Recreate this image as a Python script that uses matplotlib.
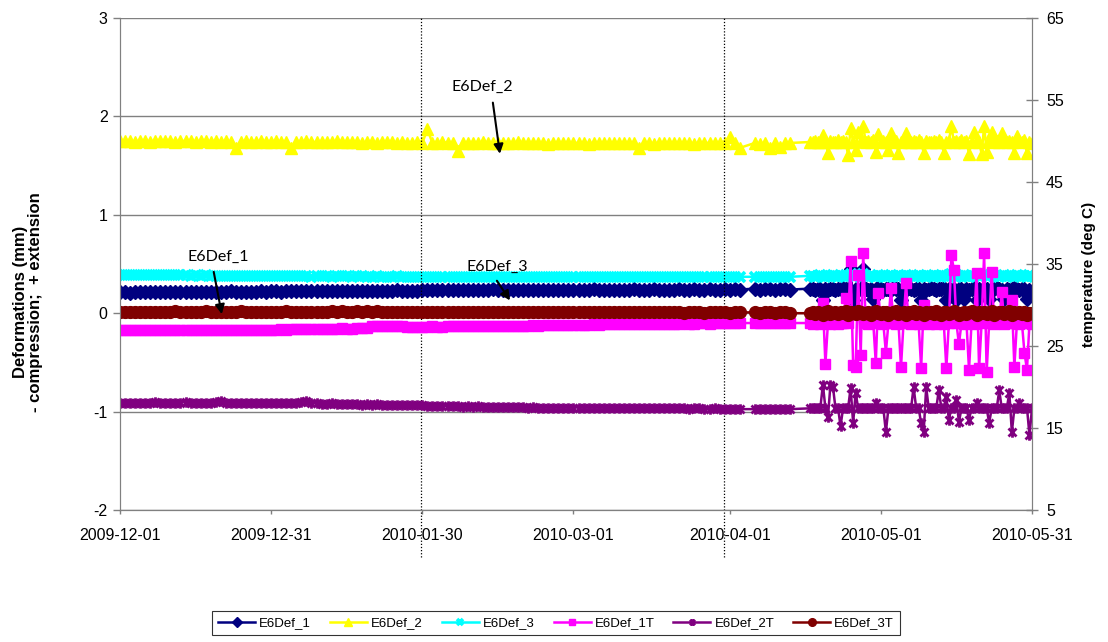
import numpy as np
import pandas as pd
import matplotlib
matplotlib.use("Agg")
import matplotlib.pyplot as plt
import matplotlib.dates as mdates
from matplotlib.path import Path

# ---------------- data ----------------
START = "2009-12-01"
DAYS_EARLY = np.arange(0, 134)            # daily readings, day offset from START
DAYS_LATE = np.arange(137, 181.01, 0.5)   # twice daily readings from 2010-04-17

X_TICK_LABELS = ["2009-12-01", "2009-12-31", "2010-01-30", "2010-03-01",
                 "2010-04-01", "2010-05-01", "2010-05-31"]
LEFT_TICKS = [-2, -1, 0, 1, 2, 3]
RIGHT_TICKS = [5, 15, 25, 35, 45, 55, 65]
EVENT_DATES = ["2010-01-29 17:00", "2010-03-30 19:00"]

# deformations (mm), left axis
E6Def_1_early = [
    0.22, 0.22, 0.21, 0.22, 0.22, 0.22, 0.22, 0.22, 0.22, 0.22,
    0.22, 0.22, 0.22, 0.22, 0.22, 0.22, 0.22, 0.22, 0.22, 0.22,
    0.22, 0.22, 0.23, 0.22, 0.22, 0.22, 0.22, 0.22, 0.23, 0.22,
    0.23, 0.23, 0.22, 0.23, 0.23, 0.23, 0.23, 0.23, 0.23, 0.23,
    0.23, 0.23, 0.23, 0.23, 0.23, 0.23, 0.23, 0.23, 0.23, 0.23,
    0.23, 0.23, 0.23, 0.23, 0.23, 0.24, 0.23, 0.23, 0.23, 0.23,
    0.24, 0.24, 0.24, 0.24, 0.24, 0.24, 0.24, 0.24, 0.24, 0.24,
    0.24, 0.24, 0.24, 0.24, 0.25, 0.24, 0.24, 0.24, 0.24, 0.24,
    0.24, 0.24, 0.24, 0.24, 0.24, 0.24, 0.24, 0.24, 0.24, 0.24,
    0.24, 0.24, 0.24, 0.24, 0.25, 0.24, 0.24, 0.24, 0.24, 0.24,
    0.24, 0.24, 0.25, 0.24, 0.24, 0.24, 0.25, 0.24, 0.24, 0.24,
    0.24, 0.25, 0.24, 0.24, 0.25, 0.24, 0.24, 0.25, 0.24, 0.24,
    0.25, 0.24, 0.25, 0.24, None, None, 0.25, 0.24, 0.25, 0.25,
    0.24, 0.25, 0.25, 0.24]
E6Def_1_late = [
    0.25, 0.25, 0.24, 0.25, 0.25, 0.13, 0.25, 0.24, 0.25, 0.25,
    0.24, 0.25, 0.25, 0.26, 0.25, 0.24, 0.45, 0.13, 0.25, 0.24,
    0.25, 0.45, 0.25, 0.24, 0.25, 0.14, 0.25, 0.26, 0.25, 0.24,
    0.25, 0.25, 0.24, 0.26, 0.25, 0.25, 0.13, 0.25, 0.24, 0.26,
    0.25, 0.24, 0.25, 0.25, 0.13, 0.25, 0.24, 0.25, 0.26, 0.25,
    0.24, 0.25, 0.25, 0.26, 0.13, 0.25, 0.24, 0.25, 0.13, 0.25,
    0.25, 0.14, 0.25, 0.24, 0.25, 0.26, 0.13, 0.25, 0.24, 0.25,
    0.25, 0.14, 0.24, 0.25, 0.26, 0.25, 0.24, 0.14, 0.25, 0.24,
    0.25, 0.26, 0.25, 0.24, 0.25, 0.25, 0.14, 0.24, 0.22]

E6Def_2_early = [
    1.75, 1.75, 1.75, 1.74, 1.75, 1.75, 1.74, 1.75, 1.75, 1.75,
    1.75, 1.74, 1.75, 1.75, 1.75, 1.74, 1.75, 1.75, 1.74, 1.75,
    1.74, 1.75, 1.74, 1.68, 1.74, 1.75, 1.74, 1.74, 1.75, 1.74,
    1.74, 1.75, 1.74, 1.74, 1.68, 1.74, 1.74, 1.75, 1.74, 1.74,
    1.74, 1.74, 1.74, 1.75, 1.74, 1.74, 1.74, 1.74, 1.73, 1.74,
    1.74, 1.73, 1.74, 1.74, 1.74, 1.73, 1.74, 1.73, 1.73, 1.74,
    1.73, 1.87, 1.73, 1.73, 1.74, 1.73, 1.73, 1.65, 1.73, 1.73,
    1.73, 1.73, 1.74, 1.73, 1.73, 1.73, 1.73, 1.73, 1.73, 1.74,
    1.73, 1.73, 1.73, 1.73, 1.73, 1.72, 1.73, 1.73, 1.73, 1.73,
    1.73, 1.73, 1.73, 1.72, 1.73, 1.73, 1.73, 1.73, 1.73, 1.73,
    1.73, 1.73, 1.73, 1.68, 1.73, 1.73, 1.72, 1.73, 1.73, 1.73,
    1.73, 1.73, 1.73, 1.73, 1.72, 1.73, 1.73, 1.73, 1.73, 1.73,
    1.73, 1.79, 1.73, 1.68, None, None, 1.73, 1.72, 1.73, 1.68,
    1.73, 1.69, 1.73, 1.73]
E6Def_2_late = [
    1.74, 1.74, 1.75, 1.74, 1.74, 1.81, 1.74, 1.63, 1.75, 1.74,
    1.74, 1.76, 1.74, 1.75, 1.74, 1.61, 1.88, 1.74, 1.66, 1.84,
    1.75, 1.90, 1.74, 1.75, 1.74, 1.76, 1.64, 1.82, 1.74, 1.75,
    1.74, 1.66, 1.83, 1.74, 1.75, 1.63, 1.74, 1.76, 1.83, 1.74,
    1.74, 1.75, 1.74, 1.76, 1.74, 1.63, 1.75, 1.74, 1.74, 1.75,
    1.74, 1.76, 1.74, 1.63, 1.74, 1.75, 1.90, 1.74, 1.75, 1.74,
    1.76, 1.74, 1.75, 1.62, 1.74, 1.84, 1.75, 1.74, 1.62, 1.90,
    1.64, 1.76, 1.84, 1.74, 1.75, 1.74, 1.83, 1.76, 1.74, 1.75,
    1.74, 1.63, 1.80, 1.75, 1.74, 1.76, 1.63, 1.74, 1.73]

E6Def_3_early = [
    0.39, 0.39, 0.39, 0.39, 0.39, 0.39, 0.39, 0.39, 0.39, 0.39,
    0.39, 0.39, 0.39, 0.39, 0.38, 0.39, 0.38, 0.39, 0.38, 0.38,
    0.38, 0.38, 0.38, 0.38, 0.38, 0.38, 0.38, 0.38, 0.38, 0.38,
    0.38, 0.38, 0.38, 0.38, 0.38, 0.38, 0.38, 0.38, 0.37, 0.38,
    0.38, 0.38, 0.37, 0.38, 0.38, 0.38, 0.37, 0.38, 0.38, 0.37,
    0.37, 0.38, 0.37, 0.37, 0.37, 0.38, 0.37, 0.37, 0.37, 0.37,
    0.37, 0.37, 0.37, 0.37, 0.37, 0.37, 0.37, 0.37, 0.37, 0.37,
    0.37, 0.37, 0.37, 0.37, 0.37, 0.37, 0.37, 0.37, 0.37, 0.37,
    0.37, 0.37, 0.37, 0.37, 0.37, 0.37, 0.37, 0.37, 0.37, 0.37,
    0.37, 0.37, 0.37, 0.37, 0.37, 0.37, 0.37, 0.37, 0.37, 0.37,
    0.37, 0.37, 0.37, 0.37, 0.37, 0.37, 0.37, 0.37, 0.37, 0.37,
    0.37, 0.37, 0.37, 0.37, 0.37, 0.37, 0.37, 0.37, 0.37, 0.37,
    0.37, 0.37, 0.37, 0.37, None, None, 0.37, 0.37, 0.37, 0.37,
    0.37, 0.37, 0.37, 0.37]
E6Def_3_late = [
    0.38, 0.38, 0.37, 0.38, 0.39, 0.38, 0.37, 0.38, 0.38, 0.39,
    0.38, 0.37, 0.38, 0.38, 0.39, 0.38, 0.40, 0.37, 0.38, 0.39,
    0.38, 0.40, 0.38, 0.37, 0.38, 0.38, 0.37, 0.39, 0.38, 0.38,
    0.37, 0.38, 0.39, 0.38, 0.38, 0.37, 0.38, 0.38, 0.39, 0.38,
    0.38, 0.37, 0.38, 0.39, 0.38, 0.38, 0.37, 0.38, 0.38, 0.39,
    0.38, 0.38, 0.37, 0.38, 0.38, 0.39, 0.40, 0.38, 0.37, 0.38,
    0.38, 0.39, 0.38, 0.37, 0.38, 0.38, 0.39, 0.38, 0.38, 0.40,
    0.37, 0.38, 0.39, 0.38, 0.38, 0.37, 0.38, 0.39, 0.38, 0.38,
    0.38, 0.37, 0.39, 0.38, 0.38, 0.38, 0.37, 0.39, 0.38]

# temperatures (deg C), right axis
E6Def_1T_early = [
    26.9, 26.9, 26.9, 26.9, 26.9, 26.9, 26.9, 26.9, 26.9, 26.9,
    26.9, 26.9, 27.0, 26.9, 26.9, 27.0, 26.9, 27.0, 27.0, 27.0,
    27.0, 27.0, 27.0, 27.0, 27.0, 27.0, 27.0, 27.0, 27.0, 27.0,
    27.0, 27.0, 27.1, 27.0, 27.1, 27.1, 27.1, 27.1, 27.1, 27.1,
    27.1, 27.1, 27.1, 27.1, 27.2, 27.1, 27.1, 27.2, 27.2, 27.2,
    27.4, 27.5, 27.5, 27.5, 27.4, 27.4, 27.5, 27.3, 27.3, 27.3,
    27.3, 27.3, 27.4, 27.3, 27.3, 27.4, 27.4, 27.4, 27.4, 27.4,
    27.4, 27.4, 27.4, 27.5, 27.4, 27.5, 27.5, 27.5, 27.5, 27.5,
    27.5, 27.5, 27.6, 27.5, 27.6, 27.6, 27.6, 27.6, 27.6, 27.6,
    27.6, 27.6, 27.6, 27.6, 27.7, 27.6, 27.7, 27.7, 27.7, 27.7,
    27.7, 27.7, 27.7, 27.7, 27.7, 27.7, 27.7, 27.7, 27.7, 27.7,
    27.7, 27.7, 27.8, 27.7, 27.7, 27.8, 27.8, 27.7, 27.8, 27.8,
    27.8, 27.8, 27.8, 27.8, None, None, 27.8, 27.8, 27.8, 27.8,
    27.8, 27.8, 27.8, 27.8]
E6Def_1T_late = [
    27.8, 27.7, 27.8, 27.8, 27.7, 30.2, 22.8, 27.8, 27.7, 27.8,
    27.8, 27.7, 27.8, 27.8, 30.9, 27.8, 35.4, 22.7, 22.4, 33.7,
    23.9, 36.3, 27.8, 27.7, 27.8, 27.8, 22.9, 31.5, 27.8, 27.7,
    24.2, 27.8, 32.1, 27.8, 27.7, 27.8, 22.4, 27.8, 32.7, 27.8,
    27.7, 27.8, 27.8, 27.7, 22.3, 30.0, 27.8, 27.7, 27.8, 27.8,
    27.7, 27.8, 27.8, 27.7, 22.3, 27.8, 36.1, 34.3, 27.8, 25.2,
    27.8, 27.7, 27.8, 22.1, 27.8, 27.7, 33.9, 22.3, 27.8, 36.3,
    21.8, 27.8, 34.0, 27.7, 27.8, 27.8, 31.6, 27.7, 27.8, 27.8,
    30.6, 22.4, 27.8, 27.7, 27.8, 24.2, 22.1, 27.8, 27.7]

E6Def_2T_early = [
    18.0, 18.0, 18.1, 18.0, 18.1, 18.0, 18.1, 18.2, 18.1, 18.0,
    18.1, 18.0, 18.1, 18.2, 18.1, 18.1, 18.0, 18.1, 18.1, 18.2,
    18.3, 18.1, 18.1, 18.0, 18.1, 18.0, 18.0, 18.1, 18.0, 18.0,
    18.0, 18.0, 18.0, 18.1, 18.0, 18.0, 18.2, 18.3, 18.1, 18.0,
    17.9, 17.9, 18.0, 17.9, 17.9, 17.9, 17.9, 17.9, 17.8, 17.9,
    17.8, 17.9, 17.8, 17.8, 17.8, 17.8, 17.8, 17.8, 17.8, 17.8,
    17.8, 17.7, 17.7, 17.7, 17.7, 17.7, 17.7, 17.7, 17.6, 17.7,
    17.6, 17.7, 17.6, 17.6, 17.6, 17.6, 17.6, 17.6, 17.6, 17.6,
    17.6, 17.5, 17.6, 17.5, 17.5, 17.5, 17.5, 17.5, 17.5, 17.5,
    17.5, 17.5, 17.5, 17.5, 17.5, 17.5, 17.5, 17.4, 17.5, 17.4,
    17.4, 17.4, 17.4, 17.4, 17.4, 17.4, 17.4, 17.4, 17.4, 17.4,
    17.4, 17.4, 17.4, 17.3, 17.4, 17.4, 17.3, 17.3, 17.4, 17.3,
    17.3, 17.3, 17.3, 17.3, None, None, 17.3, 17.3, 17.3, 17.3,
    17.3, 17.3, 17.3, 17.3]
E6Def_2T_late = [
    17.4, 17.5, 17.4, 17.4, 17.5, 20.3, 17.4, 16.3, 20.3, 20.0,
    17.4, 17.5, 15.2, 17.4, 17.5, 17.4, 19.9, 15.6, 19.3, 17.4,
    17.5, 17.4, 17.4, 17.5, 17.4, 17.4, 18.0, 17.5, 17.4, 17.4,
    14.5, 17.4, 17.5, 17.4, 17.4, 17.5, 17.4, 17.4, 17.5, 17.4,
    17.4, 20.0, 17.5, 17.4, 15.6, 14.5, 20.0, 17.4, 17.5, 17.4,
    17.4, 19.6, 17.5, 17.4, 18.8, 16.0, 17.4, 17.5, 18.4, 15.7,
    17.4, 17.5, 17.4, 16.0, 17.4, 17.5, 18.0, 17.4, 17.4, 17.5,
    17.4, 15.6, 17.4, 17.5, 17.4, 19.6, 17.4, 17.5, 17.4, 19.3,
    14.5, 17.4, 17.5, 18.0, 17.4, 17.4, 17.5, 14.1, 17.4]

E6Def_3T_early = [
    29.2, 29.2, 29.2, 29.1, 29.2, 29.2, 29.2, 29.2, 29.2, 29.2,
    29.2, 29.3, 29.2, 29.2, 29.2, 29.2, 29.2, 29.3, 29.2, 29.2,
    29.2, 29.2, 29.2, 29.2, 29.3, 29.2, 29.2, 29.2, 29.2, 29.2,
    29.2, 29.2, 29.2, 29.3, 29.2, 29.2, 29.2, 29.2, 29.2, 29.2,
    29.2, 29.2, 29.3, 29.2, 29.3, 29.2, 29.2, 29.3, 29.2, 29.3,
    29.2, 29.3, 29.2, 29.2, 29.2, 29.2, 29.2, 29.2, 29.2, 29.2,
    29.2, 29.2, 29.2, 29.2, 29.1, 29.2, 29.2, 29.2, 29.2, 29.2,
    29.2, 29.2, 29.1, 29.2, 29.2, 29.1, 29.2, 29.1, 29.1, 29.1,
    29.1, 29.1, 29.1, 29.1, 29.1, 29.1, 29.1, 29.1, 29.1, 29.1,
    29.1, 29.1, 29.1, 29.1, 29.1, 29.1, 29.1, 29.1, 29.1, 29.1,
    29.1, 29.1, 29.1, 29.1, 29.1, 29.1, 29.1, 29.1, 29.1, 29.1,
    29.1, 29.1, 29.0, 29.1, 29.1, 29.1, 29.0, 29.1, 29.1, 29.1,
    29.1, 29.0, 29.1, 29.1, None, None, 29.1, 29.0, 29.1, 29.1,
    29.0, 29.1, 29.1, 29.0]
E6Def_3T_late = [
    29.0, 29.1, 28.9, 29.2, 29.0, 28.8, 29.1, 29.3, 28.9, 29.0,
    29.2, 28.9, 29.1, 29.0, 29.3, 28.8, 29.2, 29.0, 28.9, 29.3,
    29.1, 28.9, 29.0, 29.2, 28.8, 29.1, 29.3, 29.0, 28.9, 29.1,
    29.2, 28.8, 29.0, 29.1, 29.3, 28.9, 29.0, 29.2, 28.8, 29.1,
    29.0, 29.3, 28.9, 29.1, 29.0, 28.8, 29.2, 29.0, 29.1, 28.9,
    29.3, 29.0, 28.8, 29.1, 29.2, 28.9, 29.0, 29.3, 29.1, 28.8,
    29.0, 29.2, 28.9, 29.1, 29.3, 29.0, 28.8, 29.1, 29.0, 29.2,
    28.9, 29.1, 29.3, 28.8, 29.0, 29.2, 29.1, 28.9, 29.0, 29.3,
    28.8, 29.1, 29.0, 29.2, 28.9, 29.1, 28.8, 29.0, 29.0]

# ---------------- styling ----------------
plt.rcParams["font.family"] = ["Liberation Sans", "DejaVu Sans"]

star = Path([(-1, -1), (1, 1), (-1, 1), (1, -1), (0, -1.3), (0, 1.3)],
            [Path.MOVETO, Path.LINETO, Path.MOVETO, Path.LINETO, Path.MOVETO, Path.LINETO])

base = pd.Timestamp(START)
all_days = np.concatenate([DAYS_EARLY, DAYS_LATE])


def series(early, late):
    vals = np.array([np.nan if v is None else v for v in list(early) + list(late)], dtype=float)
    ok = ~np.isnan(vals)
    t = (base + pd.to_timedelta(all_days[ok], unit="D")).to_pydatetime()
    return mdates.date2num(t), vals[ok]


def dnum(day):
    return mdates.date2num((base + pd.Timedelta(days=day)).to_pydatetime())


fig = plt.figure(figsize=(11.08, 6.42), dpi=100)
ax = fig.add_axes([120 / 1108, 1 - 510 / 642, 912 / 1108, 492 / 642])
ax2 = ax.twinx()

left_specs = [
    ("E6Def_1", E6Def_1_early, E6Def_1_late, "#000080", "D", 7.5, 1.0),
    ("E6Def_2", E6Def_2_early, E6Def_2_late, "#FFFF00", "^", 9.0, 1.0),
    ("E6Def_3", E6Def_3_early, E6Def_3_late, "#00FFFF", "x", 7.5, 2.6),
]
right_specs = [
    ("E6Def_1T", E6Def_1T_early, E6Def_1T_late, "#FF00FF", "s", 7.0, 1.0),
    ("E6Def_2T", E6Def_2T_early, E6Def_2T_late, "#800080", star, 7.5, 2.0),
    ("E6Def_3T", E6Def_3T_early, E6Def_3T_late, "#800000", "o", 8.5, 1.0),
]

handles = []
for a, specs in ((ax, left_specs), (ax2, right_specs)):
    for name, e, l, col, mk, ms, mew in specs:
        t, v = series(e, l)
        h, = a.plot(t, v, color=col, lw=1.8, marker=mk, ms=ms, mew=mew,
                    mfc=col, mec=col, label=name)
        handles.append(h)

xticks = mdates.date2num(pd.to_datetime(X_TICK_LABELS).to_pydatetime())
ax.set_xlim(xticks[0], xticks[-1])
ax.set_xticks(xticks)
ax.set_xticklabels(X_TICK_LABELS, fontsize=11.5)

ax.set_ylim(-2, 3)
ax.set_yticks(LEFT_TICKS)
ax.set_yticklabels([str(v) for v in LEFT_TICKS], fontsize=11.5)
ax2.set_ylim(5, 65)
ax2.set_yticks(RIGHT_TICKS)
ax2.set_yticklabels([str(v) for v in RIGHT_TICKS], fontsize=11.5)

ax.yaxis.grid(True, color="#808080", lw=1.0)
ax.set_axisbelow(True)
ax.tick_params(axis="y", direction="out", length=5, width=1, color="#808080", pad=4)
ax.tick_params(axis="x", direction="out", length=3, width=1, color="#808080", pad=10)
ax2.tick_params(axis="y", direction="inout", length=8, width=1, color="#808080", pad=6)
for a in (ax, ax2):
    for s in ("left", "right", "bottom"):
        a.spines[s].set_color("#808080")
    a.spines["top"].set_visible(False)
ax.spines["bottom"].set_color("#606060")

ax.set_ylabel("Deformations (mm)\n- compression;  + extension", fontsize=12,
              fontweight="bold", linespacing=1.0)
ax.yaxis.set_label_coords(-0.084, 0.423)
ax2.set_ylabel("temperature (deg C)", fontsize=11, fontweight="bold")
ax2.yaxis.set_label_coords(1.055, 0.478)

for d in EVENT_DATES:
    xd = mdates.date2num(pd.Timestamp(d).to_pydatetime())
    ax.axvline(xd, ymin=-0.095, ymax=1.0, color="black", lw=0.9,
               ls=(0, (1, 1.5)), clip_on=False, zorder=5)


def note(text, text_xy, tail_xy, tip_xy):
    ax2.annotate("", xy=(dnum(tip_xy[0]), tip_xy[1]),
                 xytext=(dnum(tail_xy[0]), tail_xy[1]),
                 xycoords=ax.transData, textcoords=ax.transData,
                 arrowprops=dict(arrowstyle="-|>", color="black", lw=1.5,
                                 mutation_scale=14, shrinkA=0, shrinkB=0), zorder=10)
    ax2.text(dnum(text_xy[0]), text_xy[1], text,
             transform=ax.transData, ha="center", va="center",
             fontsize=11.5, family=["Lato", "DejaVu Sans"], zorder=10)


note("E6Def_2", (72.0, 2.30), (74.0, 2.14), (75.4, 1.62))
note("E6Def_1", (19.4, 0.57), (18.6, 0.42), (20.2, -0.01))
note("E6Def_3", (74.8, 0.47), (74.8, 0.33), (77.4, 0.13))

leg = fig.legend(handles=handles, loc="center", bbox_to_anchor=(556 / 1108, 1 - 623 / 642),
                 ncol=6, fontsize=9.5, frameon=True, fancybox=False, edgecolor="black",
                 handlelength=2.8, columnspacing=1.45, handletextpad=0.3,
                 borderpad=0.45, markerscale=0.65)
leg.get_frame().set_linewidth(0.8)

fig.savefig("out.png", dpi=100)
